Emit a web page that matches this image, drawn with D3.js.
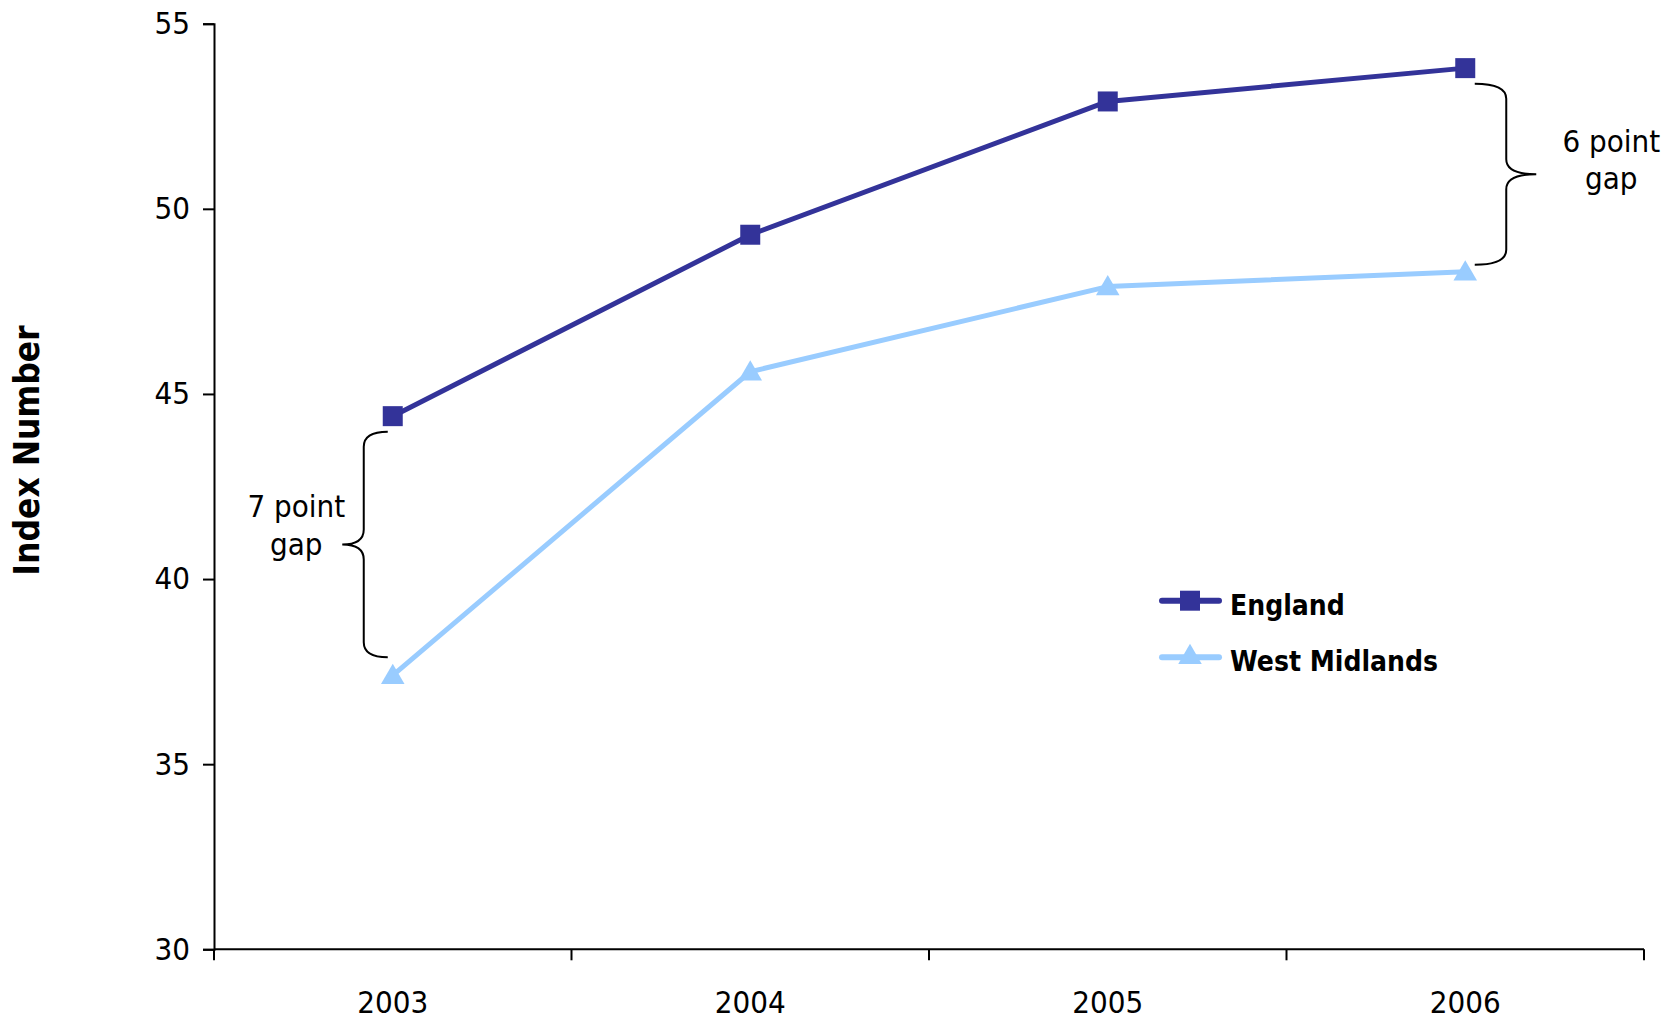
<!DOCTYPE html>
<html>
<head>
<meta charset="utf-8">
<script src="https://cdn.jsdelivr.net/npm/d3@7"></script>
<style>
  html, body { margin: 0; padding: 0; background: #ffffff; }
  svg { display: block; }
  text { font-family: 'DejaVu Sans Condensed', 'DejaVu Sans', sans-serif; font-stretch: condensed; fill: #000; }
</style>
</head>
<body>
<svg id="chart" width="1664" height="1024"></svg>
<script>
// ---- data ----
const years = ["2003", "2004", "2005", "2006"];
const england = [44.4, 49.3, 52.9, 53.8];
const westMidlands = [37.4, 45.6, 47.9, 48.3];
const yTicks = [30, 35, 40, 45, 50, 55];
const seriesNames = ["England", "West Midlands"];
const seriesColors = ["#333399", "#99CCFF"];
const gapLabels = [["7 point", "gap"], ["6 point", "gap"]];
const yTitle = "Index Number";

// ---- layout ----
const plotL = 214, plotR = 1644, plotT = 23.7, plotB = 949.3;

const svg = d3.select("#chart");

const x = d3.scaleBand().domain(years).range([plotL, plotR]).padding(0);
const y = d3.scaleLinear().domain([30, 55]).range([plotB, plotT]);
const cx = d => x(d) + x.bandwidth() / 2;

// y axis
const yAxis = d3.axisLeft(y).tickValues(yTicks).tickSize(11).tickPadding(13).tickFormat(d3.format("d"));
const gy = svg.append("g").attr("transform", `translate(${plotL},0)`).call(yAxis);
gy.select(".domain").attr("stroke", "#000").attr("stroke-width", 2);
gy.selectAll(".tick line").attr("stroke", "#000").attr("stroke-width", 2);
gy.selectAll(".tick text").attr("font-size", 31).attr("fill", "#000")
  .style("font-family", "'DejaVu Sans Condensed', 'DejaVu Sans', sans-serif");

// x axis: ticks at category boundaries
const gx = svg.append("g").attr("transform", `translate(0,${plotB})`);
gx.append("line").attr("x1", plotL).attr("x2", plotR).attr("y1", 0).attr("y2", 0)
  .attr("stroke", "#000").attr("stroke-width", 2);
const bounds = years.map(d => x(d)).concat([x(years[years.length - 1]) + x.bandwidth()]);
gx.selectAll("line.tk").data(bounds).enter().append("line").attr("class", "tk")
  .attr("x1", d => d).attr("x2", d => d).attr("y1", 0).attr("y2", 11)
  .attr("stroke", "#000").attr("stroke-width", 2);
gx.selectAll("text.lbl").data(years).enter().append("text").attr("class", "lbl")
  .attr("x", d => cx(d)).attr("y", 63.5).attr("text-anchor", "middle")
  .attr("font-size", 31).text(d => d);

// y title
svg.append("text")
  .attr("transform", `translate(39,450.5) rotate(-90)`)
  .attr("text-anchor", "middle").attr("font-size", 35).attr("font-weight", "bold")
  .text(yTitle);

// lines
const line = d3.line().x(d => cx(d.year)).y(d => y(d.v));
const seriesData = [england, westMidlands].map(arr => arr.map((v, i) => ({ year: years[i], v })));

seriesData.forEach((sd, si) => {
  svg.append("path").datum(sd).attr("d", line).attr("fill", "none")
    .attr("stroke", seriesColors[si]).attr("stroke-width", 5).attr("stroke-linejoin", "round");
});

const sqSym = d3.symbol().type(d3.symbolSquare).size(400);
const triSym = d3.symbol().type(d3.symbolTriangle).size(240);

// markers
svg.selectAll("path.sq").data(seriesData[0]).enter().append("path").attr("class", "sq")
  .attr("d", sqSym).attr("transform", d => `translate(${cx(d.year)},${y(d.v)})`)
  .attr("fill", seriesColors[0]);
svg.selectAll("path.tri").data(seriesData[1]).enter().append("path").attr("class", "tri")
  .attr("d", triSym).attr("transform", d => `translate(${cx(d.year)},${y(d.v) + 2})`)
  .attr("fill", seriesColors[1]);

// braces
function bracePath(xTip, xSpine, xPoint, yTop, yBot, r) {
  const yMid = (yTop + yBot) / 2;
  return `M${xTip},${yTop} Q${xSpine},${yTop} ${xSpine},${yTop + r}` +
    ` L${xSpine},${yMid - r} Q${xSpine},${yMid} ${xPoint},${yMid}` +
    ` Q${xSpine},${yMid} ${xSpine},${yMid + r}` +
    ` L${xSpine},${yBot - r} Q${xSpine},${yBot} ${xTip},${yBot}`;
}
// left brace (2003)
{
  const tip = cx("2003") - 5;
  const yT = y(england[0]) + 15.5, yB = y(westMidlands[0]) - 18;
  svg.append("path").attr("d", bracePath(tip, tip - 24, tip - 45.5, yT, yB, 15))
    .attr("fill", "none").attr("stroke", "#000").attr("stroke-width", 2);
  const tx = tip - 91.5;
  svg.append("text").attr("x", tx).attr("y", 516.7).attr("text-anchor", "middle").attr("font-size", 31).text(gapLabels[0][0]);
  svg.append("text").attr("x", tx).attr("y", 554.5).attr("text-anchor", "middle").attr("font-size", 31).text(gapLabels[0][1]);
}
// right brace (2006)
{
  const tip = cx("2006") + 9.5;
  const yT = y(england[3]) + 15.5, yB = y(westMidlands[3]) - 7;
  svg.append("path").attr("d", bracePath(tip, tip + 31.5, tip + 61.5, yT, yB, 15))
    .attr("fill", "none").attr("stroke", "#000").attr("stroke-width", 2);
  const tx = tip + 136.5;
  svg.append("text").attr("x", tx).attr("y", 151.7).attr("text-anchor", "middle").attr("font-size", 31).text(gapLabels[1][0]);
  svg.append("text").attr("x", tx).attr("y", 188.5).attr("text-anchor", "middle").attr("font-size", 31).text(gapLabels[1][1]);
}

// legend
const legY = [600.7, 657.3];
const lg = svg.append("g");
seriesNames.forEach((name, i) => {
  lg.append("line").attr("x1", 1162).attr("x2", 1219).attr("y1", legY[i]).attr("y2", legY[i])
    .attr("stroke", seriesColors[i]).attr("stroke-width", 6).attr("stroke-linecap", "round");
  lg.append("path").attr("d", i === 0 ? sqSym : triSym)
    .attr("transform", `translate(1190,${legY[i]})`)
    .attr("fill", seriesColors[i]);
  lg.append("text").attr("x", 1230).attr("y", legY[i] + 14).attr("font-size", 28)
    .attr("font-weight", "bold").text(name);
});
</script>
</body>
</html>
